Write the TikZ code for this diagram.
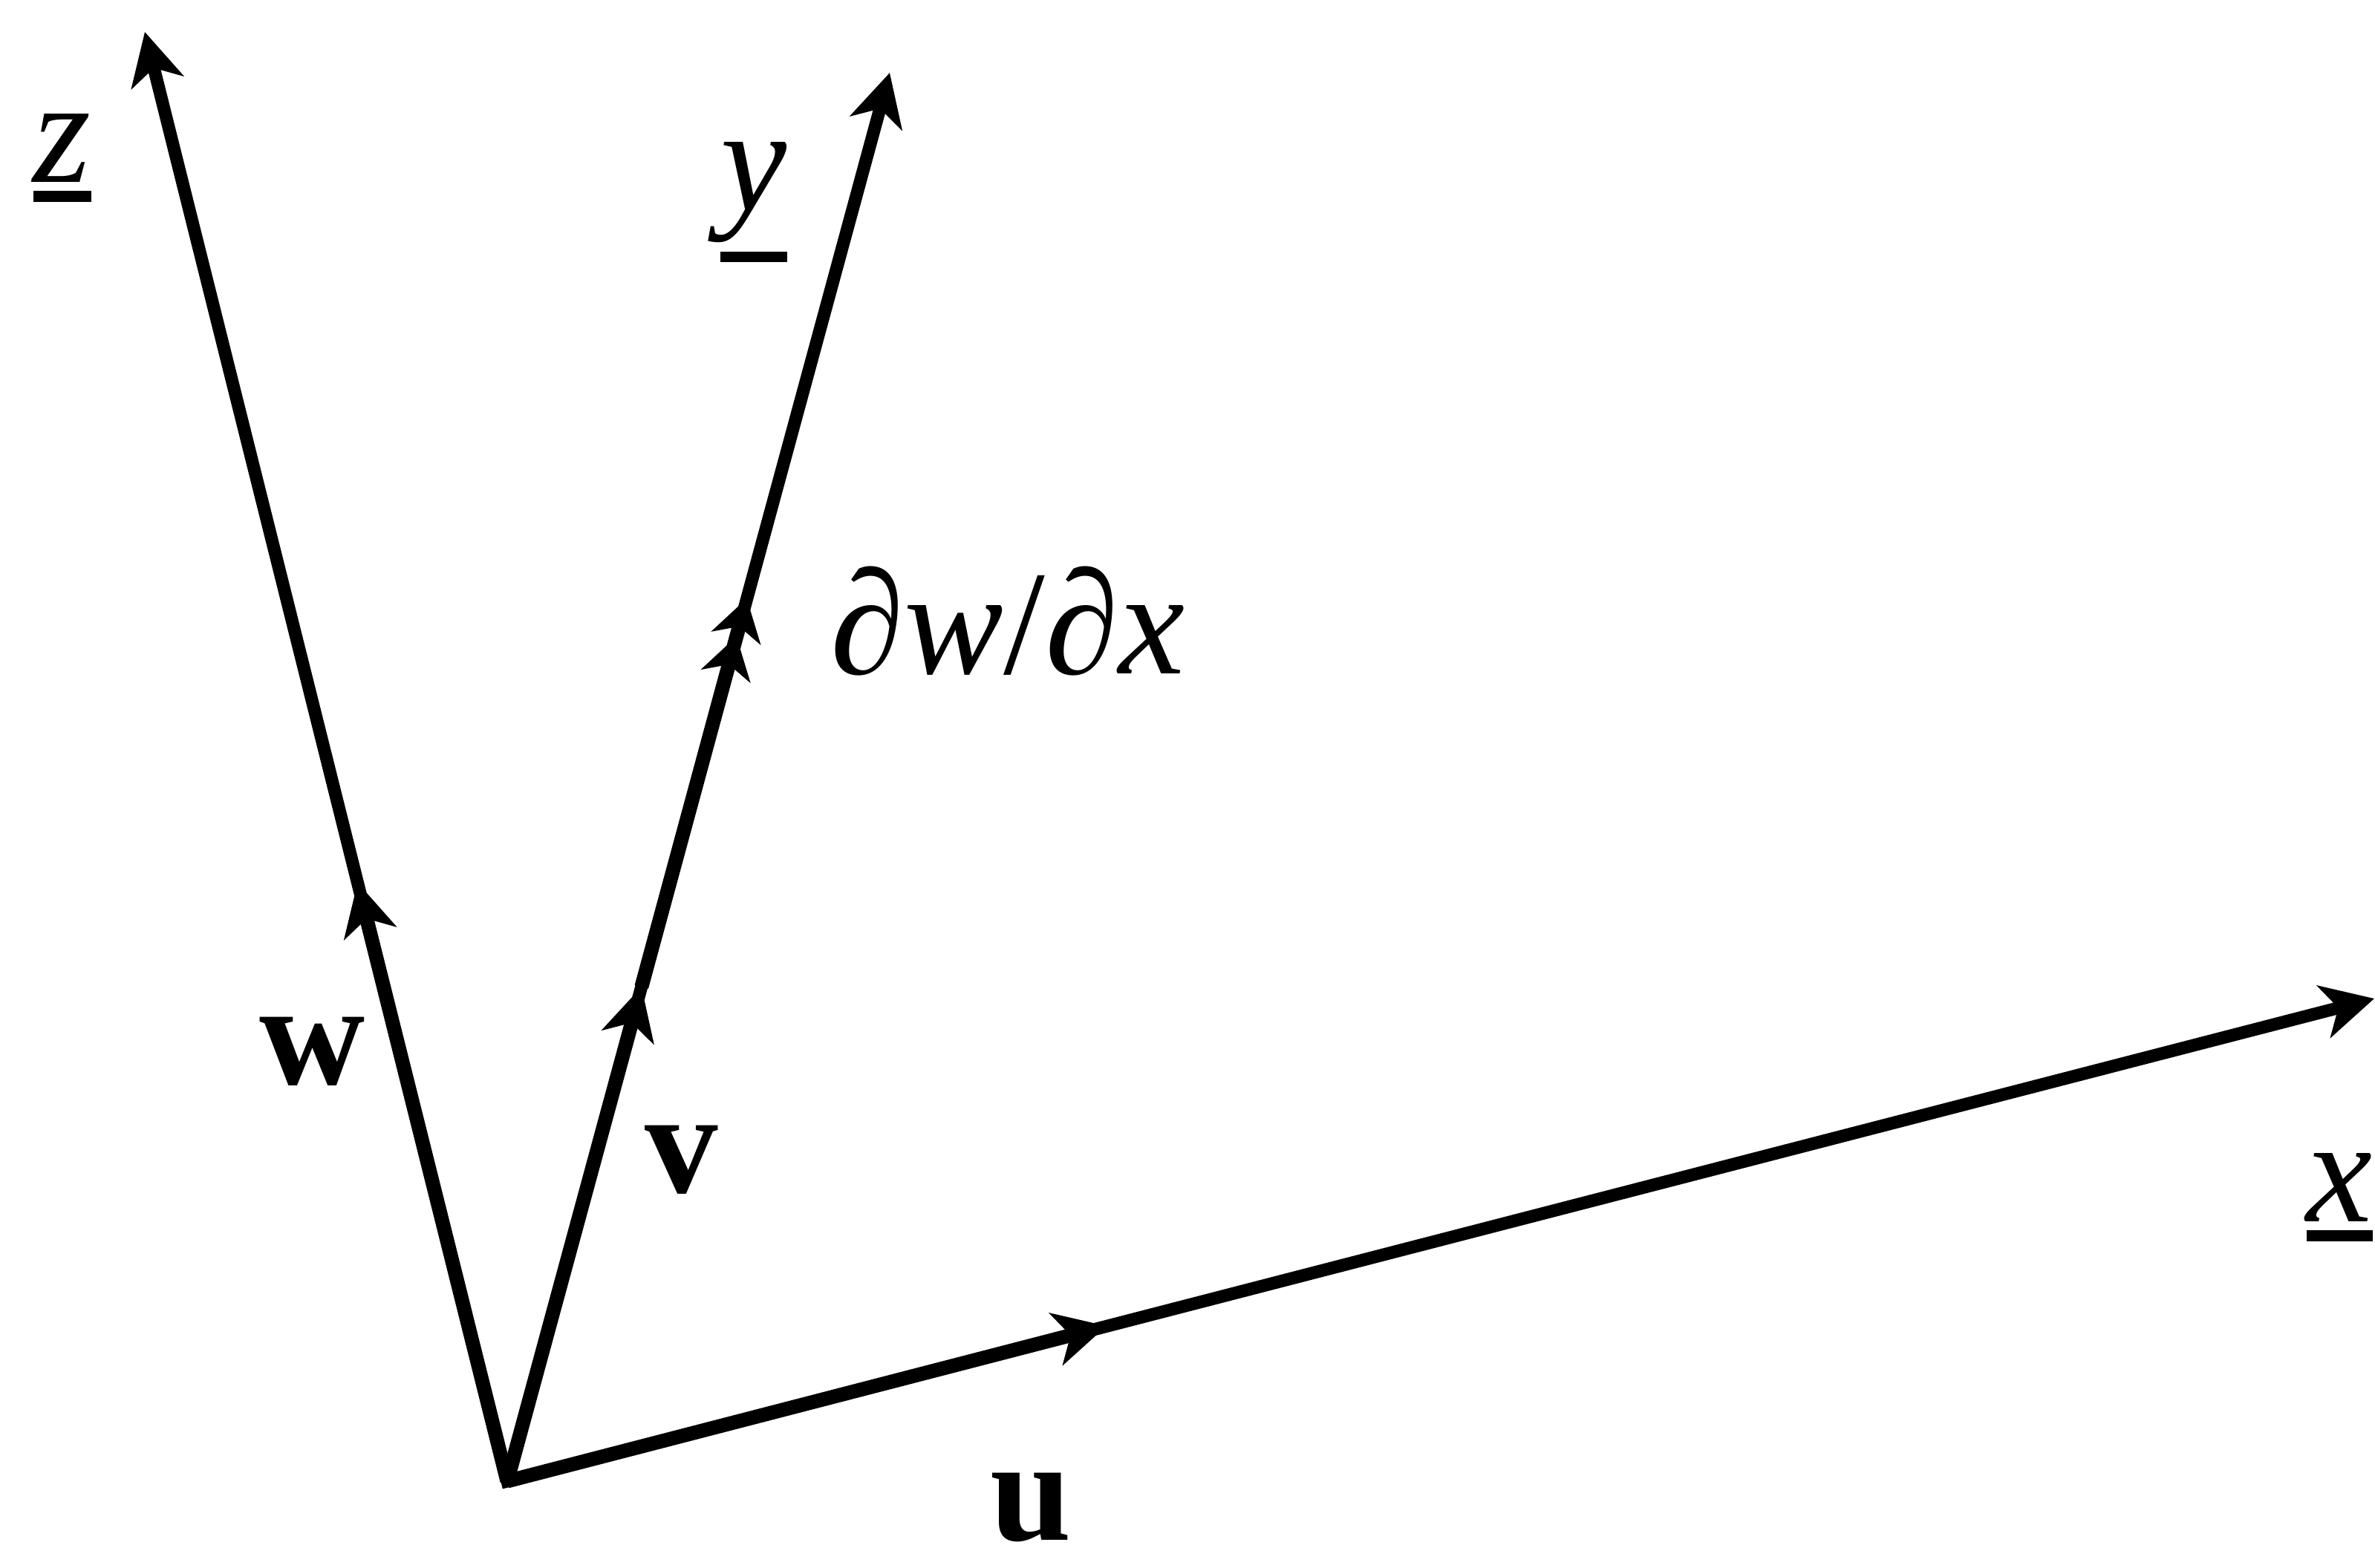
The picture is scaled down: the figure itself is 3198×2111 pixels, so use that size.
\documentclass[tikz,border=0pt]{standalone}
\usepackage{fontspec}
\setmainfont{Liberation Serif}
\usetikzlibrary{arrows.meta}
\newcommand\ulbox[1]{\vtop{\hbox{#1}\kern3.5pt\hrule height 4.2pt}}
\begin{document}
\begin{tikzpicture}[x=0.01cm,y=-0.01cm,
  axisline/.style={line width=0.17cm, -{Stealth[length=0.7cm,width=0.72cm,inset=0.2cm]}},
  vecline/.style={line width=0.19cm, -{Stealth[length=0.7cm,width=0.72cm,inset=0.2cm]}},
  dvecline/.style={line width=0.19cm, -{Stealth[length=0.55cm,width=0.68cm,inset=0.16cm,sep=-0.02cm] Stealth[length=0.55cm,width=0.68cm,inset=0.16cm,sep=-0.02cm]}},
  lab/.style={inner sep=0pt, anchor=base, font=\fontsize{57}{68}\selectfont},
  blab/.style={lab, font=\fontsize{56}{68}\selectfont\bfseries}]
\useasboundingbox (0,0) rectangle (3198,2111);
% points
\coordinate (O) at (683,1995);
\coordinate (Z) at (195,43);
\coordinate (Y) at (1198,98);
\coordinate (X) at (3197,1345);
\coordinate (W) at (481.5,1188.8);
\coordinate (V) at (863.8,1329.2);
\coordinate (D) at (1005,808);
\coordinate (U) at (1490,1786);
% axes
\draw[line width=0.17cm, {Stealth[length=0.7cm,width=0.72cm,inset=0.2cm]}-{Stealth[length=0.7cm,width=0.72cm,inset=0.2cm]}] (Z) -- (O) -- (X);
\draw[axisline] (O) -- (Y);
% vectors
\draw[vecline] (O) -- (W);
\draw[vecline] (O) -- (V);
\draw[dvecline] (V) -- (D);
\draw[vecline] (O) -- (U);
% labels
\node[lab] (lz) at (84,245) {\ulbox{\textit{z}}};
\node[lab] (ly) at (1015,283) {\ulbox{\textit{y}}};
\node[lab] (lx) at (3150,1645) {\ulbox{\textit{x}}};
\node[lab] (ld) at (1357,907) {∂\textit{w}/∂\textit{x}};
\node[blab] (lw) at (421,1460) {w};
\node[blab] (lv) at (918,1606) {v};
\node[blab] (lu) at (1388,2074) {u};
\end{tikzpicture}
\end{document}
